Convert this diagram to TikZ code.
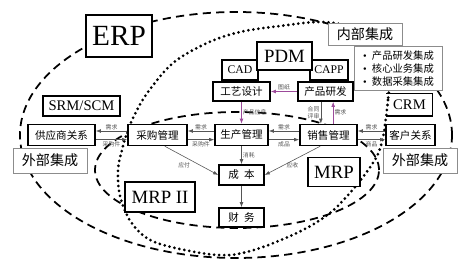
\documentclass[tikz,border=0pt]{standalone}
\usepackage{fontspec}
\setmainfont{Liberation Serif}
\newfontfamily\cjk{Noto Sans CJK SC}
\usepackage{tikz}
\usetikzlibrary{arrows.meta}
\definecolor{linkviolet}{HTML}{9C4A9A}
\definecolor{linkgray}{HTML}{555555}
\definecolor{scopegray}{HTML}{8C8C8C}
\newcommand\itemdot{{\rmfamily\textbullet}\enspace}

\begin{document}
\begin{tikzpicture}[x=0.03cm,y=-0.03cm,
 module/.style={draw,line width=1.3pt,fill=white,inner sep=0pt,minimum height=0.63cm,
 font=\cjk\fontsize{9}{9}\selectfont},
 tag/.style={draw,line width=1.2pt,fill=white,inner sep=0pt},
 scopebox/.style={draw=scopegray,line width=0.6pt,fill=white,inner sep=0pt,
 font=\cjk\fontsize{12}{12}\selectfont},
 flow/.style={-{Latex[length=1.5mm,width=1.1mm]},draw=linkgray,line width=0.5pt},
 vflow/.style={flow,draw=linkviolet},
 lbl/.style={font=\cjk\fontsize{5}{5.5}\selectfont,inner sep=1pt,text=linkgray,align=center},
 erpline/.style={line width=1.5pt,dash pattern=on 7pt off 4.5pt},
 mrpline/.style={line width=2.6pt,dash pattern=on 0pt off 4.3pt,line cap=round}]
\useasboundingbox (0,0) rectangle (471,265);
% scope outlines
\draw[erpline] (236,135) ellipse [x radius=6.48cm,y radius=3.69cm];
\draw[erpline] (237,170) ellipse [x radius=4.26cm,y radius=1.74cm];
\draw[mrpline] plot[smooth cycle,tension=0.55] coordinates {(389,80) (388,100) (385,125)
 (382,142) (376,158) (363,177) (349,194) (330,213) (303,230) (263,247) (230,255) (195,252)
 (152,241) (131,222) (120,196) (118,170) (122,150) (128,130) (136,112) (148,92) (173,63)
 (207,43) (240,32) (280,26) (323,22) (360,30) (382,52)};
% business modules
\node[module,minimum width=2.01cm] (gongying) at (61.5,135) {供应商关系};
\node[module,minimum width=1.77cm] (caigou) at (157.5,135) {采购管理};
\node[module,minimum width=1.59cm] (shengchan) at (241.5,135) {生产管理};
\node[module,minimum width=1.71cm] (xiaoshou) at (328.5,135) {销售管理};
\node[module,minimum width=1.47cm] (kehu) at (410.5,135) {客户关系};
\node[module,minimum width=1.71cm,minimum height=0.57cm] (gongyi) at (241.5,91.5) {工艺设计};
\node[module,minimum width=1.65cm,minimum height=0.57cm] (yanfa) at (325.5,91.5) {产品研发};
\node[module,minimum width=1.35cm,minimum height=0.6cm] (chengben) at (241.5,175) {成\hspace{0.5em}本};
\node[module,minimum width=1.35cm,minimum height=0.57cm] (caiwu) at (241.5,217.5) {财\hspace{0.5em}务};
% system tags
\node[tag,minimum width=1.08cm,minimum height=0.6cm,font=\fontsize{10}{10}\selectfont] (cad) at (240,70) {CAD};
\node[tag,minimum width=1.14cm,minimum height=0.6cm,font=\fontsize{10}{10}\selectfont] (capp) at (329,70) {CAPP};
\node[tag,minimum width=1.65cm,minimum height=0.84cm,font=\fontsize{16}{16}\selectfont] (pdm) at (284.5,56) {PDM};
\node[tag,draw=none,fill=none,minimum width=1.35cm,minimum height=0.63cm,font=\fontsize{12.5}{12.5}\selectfont] (crm) at (409.5,105) {CRM};
\draw[line width=1.2pt] (crm.north west) -- (crm.north east) -- (crm.south east) -- (crm.south west);
\node[tag,minimum width=2.31cm,minimum height=0.6cm,font=\fontsize{12.5}{12.5}\selectfont] (srm) at (81.5,106) {SRM/SCM};
\node[tag,line width=1pt,minimum width=1.98cm,minimum height=1.26cm,font=\fontsize{25}{25}\selectfont] (erp) at (119,36) {ERP};
\node[tag,minimum width=2.1cm,minimum height=0.9cm,font=\fontsize{16}{16}\selectfont] (mrpii) at (160,197) {MRP II};
\node[tag,minimum width=1.56cm,minimum height=0.87cm,font=\fontsize{16}{16}\selectfont] (mrp) at (334,172) {MRP};
% integration notes
\node[scopebox,minimum width=2.22cm,minimum height=0.66cm] (neibu) at (365,34) {内部集成};
\node[scopebox,minimum width=2.64cm,minimum height=1.3cm,align=left,
 font=\cjk\fontsize{8.8}{11}\selectfont] (items) at (398.5,68.5) {\itemdot 产品研发集成\\\itemdot 核心业务集成\\\itemdot 数据采集集成};
\node[scopebox,minimum width=2.22cm,minimum height=0.75cm] (waibul) at (50,160.5) {外部集成};
\node[scopebox,minimum width=2.22cm,minimum height=0.75cm] (waibur) at (420,160.5) {外部集成};
% information flows
\draw[flow] ([yshift=0.12cm]caigou.west) -- ([yshift=0.12cm]gongying.east) node[lbl,midway,above] {需求};
\draw[flow] ([yshift=-0.14cm]gongying.east) -- ([yshift=-0.14cm]caigou.west) node[lbl,midway,below] {采购件};
\draw[flow] ([yshift=0.12cm]shengchan.west) -- ([yshift=0.12cm]caigou.east) node[lbl,midway,above] {需求};
\draw[flow] ([yshift=-0.14cm]caigou.east) -- ([yshift=-0.14cm]shengchan.west) node[lbl,midway,below] {采购件};
\draw[flow] ([yshift=0.12cm]xiaoshou.west) -- ([yshift=0.12cm]shengchan.east) node[lbl,midway,above] {需求};
\draw[flow] ([yshift=-0.14cm]shengchan.east) -- ([yshift=-0.14cm]xiaoshou.west) node[lbl,midway,below] {成品};
\draw[flow] ([yshift=0.12cm]kehu.west) -- ([yshift=0.12cm]xiaoshou.east) node[lbl,midway,above] {需求};
\draw[flow] ([yshift=-0.14cm]xiaoshou.east) -- ([yshift=-0.14cm]kehu.west) node[lbl,midway,below] {商品};
\draw[vflow] (yanfa.west) -- (gongyi.east) node[lbl,midway,above] {图纸};
\draw[vflow] (gongyi.south) -- (gongyi.south |- shengchan.north) node[lbl,midway,right] {产品信息};
\draw[flow] ([xshift=-0.14cm]yanfa.south) -- ([xshift=-0.14cm]yanfa.south |- xiaoshou.north) node[lbl,midway,left] {合同\\评审};
\draw[vflow] ([xshift=0.23cm]yanfa.south |- xiaoshou.north) -- ([xshift=0.23cm]yanfa.south) node[lbl,midway,right] {需求};
\draw[flow] ([xshift=0.22cm]caigou.south) -- (chengben.west) node[lbl,midway,below left] {应付};
\draw[flow] ([xshift=-0.25cm]xiaoshou.south) -- (chengben.east) node[lbl,midway,below] {应收};
\draw[flow] (shengchan.south) -- (chengben.north) node[lbl,midway,right] {消耗};
\draw[flow] (chengben) -- (caiwu);
\end{tikzpicture}
\end{document}
